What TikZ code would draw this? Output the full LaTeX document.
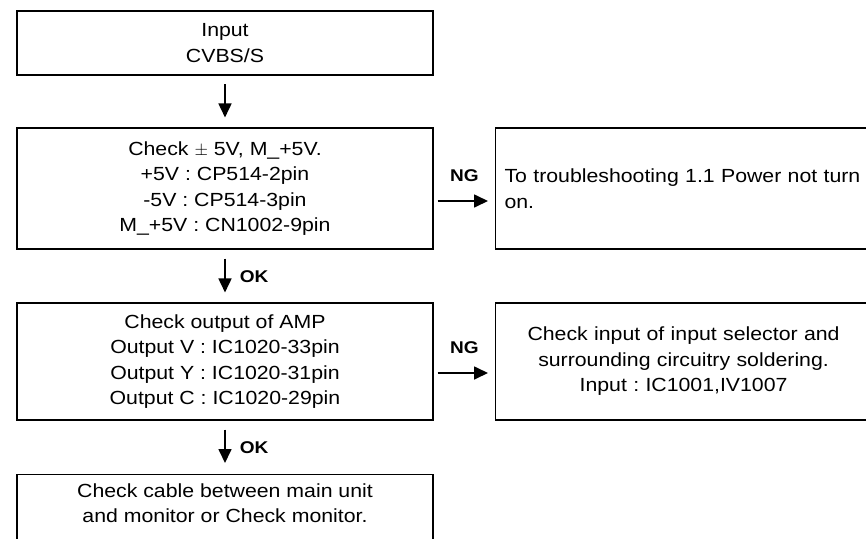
\documentclass[tikz,border=0pt]{standalone}
\usepackage{fontspec}
\setmainfont[FakeStretch=1.12]{Liberation Sans}
\usetikzlibrary{arrows.meta,positioning}
\frenchspacing

\begin{document}
\begin{tikzpicture}[x=1pt, y=-1pt,
    font=\fontsize{19}{25.5}\selectfont,
    caja/.style={draw, line width=1.1pt, minimum width=416pt, align=center, inner sep=6pt},
    salida/.style={draw, line width=1.1pt, anchor=west, inner xsep=9pt},
    flujo/.style={arrows={-{Triangle[length=14pt,width=13pt]}}, line width=1.7pt},
    etiq/.style={font=\fontsize{17}{20}\selectfont\bfseries, inner sep=0pt}]

    % --- Marco de la imagen ---
    \useasboundingbox (0,0) rectangle (866,538);
    \clip (0,0) rectangle (866,538);

    % --- Columna principal ---
    \node[caja, line width=2.6pt, minimum height=64pt] (entrada) at (225,43) {Input\\CVBS/S};
    \node[caja, minimum height=121pt] (chkfuente) at (225,188.5)
        {Check $\pm$ 5V, M\_+5V.\\+5V : CP514-2pin\\-5V : CP514-3pin\\M\_+5V : CN1002-9pin};
    \node[caja, minimum height=117pt] (chkamp) at (225,361.5)
        {Check output of AMP\\Output V : IC1020-33pin\\Output Y : IC1020-31pin\\Output C : IC1020-29pin};
    \node[caja, anchor=north, inner ysep=9pt, text depth=60pt] (chkcable) at (225,474)
        {Check cable between main unit\\and monitor or Check monitor.};

    % --- Ramas NG ---
    \node[salida, minimum height=121pt, text width=380pt, align=left] (apagado) at (495,188.5)
        {To troubleshooting 1.1 Power not turn\\on.};
    \node[salida, minimum height=117pt, text width=358pt, align=center] (selector) at (495,361.5)
        {Check input of input selector and\\surrounding circuitry soldering.\\Input : IC1001,IV1007};

    % --- Flechas verticales ---
    \draw[flujo, shorten <=8pt, shorten >=10pt] (entrada) -- (chkfuente);
    \draw[flujo, shorten <=9pt, shorten >=10pt] (chkfuente) -- (chkamp)
        node[etiq, pos=0.52, right=14pt] (ok1) {OK};
    \draw[flujo, shorten <=9pt, shorten >=11pt] (chkamp) -- (chkcable)
        node[etiq, pos=0.5, right=14pt] (ok2) {OK};

    % --- Flechas horizontales NG ---
    \draw[flujo, shorten <=4pt, shorten >=7pt] ([yshift=-12.5pt]chkfuente.east) -- ([yshift=-12.5pt]apagado.west)
        node[etiq, midway, above=18pt] (ng1) {NG};
    \draw[flujo, shorten <=4pt, shorten >=7pt] ([yshift=-11.5pt]chkamp.east) -- ([yshift=-11.5pt]selector.west)
        node[etiq, midway, above=18pt] (ng2) {NG};

\end{tikzpicture}
\end{document}
